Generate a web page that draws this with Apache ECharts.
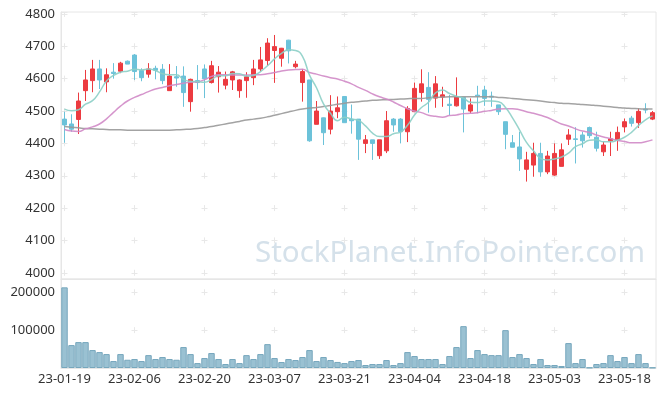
<!DOCTYPE html>
<html><head><meta charset="utf-8">
<script src="https://cdn.jsdelivr.net/npm/echarts@6/dist/echarts.min.js"></script>
<style>html,body{margin:0;padding:0;background:#fff}#c{width:665px;height:397px}</style>
</head><body><div id="c"></div>
<script>
var dates = ["23-01-19","23-01-20","23-01-25","23-01-26","23-01-27","23-01-30","23-01-31","23-02-01","23-02-02","23-02-03","23-02-06","23-02-07","23-02-08","23-02-09","23-02-10","23-02-13","23-02-14","23-02-15","23-02-16","23-02-17","23-02-20","23-02-21","23-02-22","23-02-23","23-02-24","23-02-27","23-02-28","23-03-02","23-03-03","23-03-06","23-03-07","23-03-08","23-03-09","23-03-10","23-03-13","23-03-14","23-03-15","23-03-16","23-03-17","23-03-20","23-03-21","23-03-22","23-03-23","23-03-24","23-03-27","23-03-28","23-03-29","23-03-30","23-03-31","23-04-03","23-04-04","23-04-05","23-04-06","23-04-07","23-04-10","23-04-11","23-04-12","23-04-13","23-04-14","23-04-17","23-04-18","23-04-19","23-04-20","23-04-21","23-04-24","23-04-25","23-04-26","23-04-27","23-04-28","23-05-02","23-05-03","23-05-04","23-05-08","23-05-09","23-05-10","23-05-11","23-05-12","23-05-15","23-05-16","23-05-17","23-05-18","23-05-19","23-05-22","23-05-23","23-05-24"];
var opens  = [4475,4460,4474,4563,4594,4630,4590,4620,4623,4654,4673,4625,4614,4632,4629,4563,4606,4608,4529,4594,4630,4588,4606,4580,4596,4563,4594,4603,4630,4656,4687,4663,4719,4637,4588,4596,4459,4479,4444,4498,4545,4475,4475,4400,4411,4362,4377,4475,4475,4436,4498,4557,4573,4540,4543,4521,4516,4542,4500,4549,4565,4546,4519,4467,4402,4389,4320,4333,4369,4312,4302,4329,4413,4414,4426,4449,4419,4374,4408,4410,4451,4478,4464,4506,4475];
var closes = [4457,4444,4531,4596,4630,4596,4612,4616,4648,4645,4622,4603,4630,4626,4594,4608,4602,4557,4598,4588,4600,4640,4620,4598,4621,4596,4606,4630,4658,4710,4699,4694,4686,4645,4622,4408,4500,4433,4500,4510,4464,4470,4413,4411,4400,4411,4470,4457,4436,4508,4570,4584,4536,4584,4550,4517,4544,4506,4519,4546,4539,4543,4498,4428,4388,4352,4349,4369,4312,4361,4369,4380,4426,4412,4408,4424,4385,4395,4414,4434,4467,4462,4499,4503,4495];
var lows   = [4402,4436,4429,4531,4558,4568,4558,4600,4617,4645,4596,4592,4603,4598,4583,4563,4575,4513,4498,4567,4540,4585,4557,4567,4565,4541,4541,4580,4623,4640,4587,4637,4647,4632,4529,4405,4459,4395,4428,4478,4464,4430,4349,4370,4349,4352,4370,4436,4400,4404,4498,4529,4495,4510,4513,4487,4514,4434,4493,4493,4516,4513,4488,4382,4388,4315,4282,4297,4297,4305,4300,4329,4395,4338,4387,4416,4375,4361,4361,4377,4434,4452,4448,4493,4472];
var highs  = [4498,4490,4557,4627,4658,4658,4632,4648,4652,4656,4676,4632,4648,4640,4645,4645,4639,4638,4600,4642,4644,4655,4639,4622,4624,4598,4620,4658,4698,4725,4735,4695,4720,4655,4630,4596,4531,4480,4549,4545,4545,4520,4475,4426,4411,4411,4500,4478,4478,4515,4588,4629,4620,4608,4575,4550,4604,4542,4539,4578,4578,4560,4519,4467,4426,4436,4374,4402,4402,4377,4400,4400,4444,4450,4436,4452,4436,4405,4436,4452,4477,4485,4509,4524,4500];
var volumes = [213000,60500,68400,68400,47400,42000,36800,18400,36800,21800,23700,18400,34000,23700,29000,23700,21800,55300,36800,13000,26300,39500,23700,10500,23700,13000,34000,23700,36800,63000,26300,15800,23700,21000,29000,47400,18400,29000,21000,16000,13000,18400,21000,7900,10500,10500,21000,7900,13000,42000,31600,23700,23700,23700,10500,31600,55300,110500,26300,47400,36800,34000,34000,100000,29000,36800,26300,10500,23700,7900,7900,5300,65800,13000,23700,1000,10500,13000,34000,18400,29000,13000,36800,13000,1000];
var ma5  = [4506,4501,4504,4521,4532,4559,4593,4610,4620,4623,4629,4627,4630,4625,4615,4612,4612,4597,4592,4591,4589,4597,4609,4609,4616,4615,4608,4610,4622,4640,4661,4678,4689,4687,4669,4611,4572,4522,4493,4470,4481,4475,4471,4454,4432,4421,4421,4430,4435,4456,4488,4511,4527,4556,4565,4554,4546,4540,4527,4526,4531,4531,4529,4511,4479,4442,4403,4377,4354,4349,4352,4358,4370,4390,4399,4410,4411,4405,4405,4410,4419,4434,4455,4473,4485];
var ma20 = [4443,4438,4437,4445,4451,4460,4476,4496,4515,4531,4542,4551,4560,4568,4573,4578,4582,4586,4589,4590,4597,4607,4612,4612,4611,4611,4611,4612,4612,4615,4619,4624,4627,4628,4629,4619,4614,4608,4603,4599,4592,4584,4573,4564,4553,4544,4537,4528,4517,4507,4500,4495,4487,4484,4481,4486,4488,4492,4493,4495,4499,4502,4506,4507,4507,4504,4498,4493,4487,4480,4470,4460,4454,4445,4438,4434,4426,4420,4415,4409,4406,4402,4402,4405,4411];
var ma60 = [4452,4450,4448,4446,4445,4444,4443,4442,4442,4441,4441,4441,4441,4441,4441,4441,4442,4443,4444,4446,4449,4452,4456,4460,4464,4468,4472,4475,4478,4482,4487,4492,4497,4502,4506,4509,4511,4514,4517,4521,4524,4527,4529,4531,4533,4534,4535,4536,4537,4538,4539,4539,4541,4542,4543,4544,4544,4544,4544,4544,4544,4544,4542,4541,4539,4537,4535,4533,4531,4528,4526,4524,4523,4522,4520,4519,4517,4515,4513,4511,4509,4508,4507,4506,4506];
var watermark = "StockPlanet.InfoPointer.com";

var candleData = opens.map(function (o, i) { return [o, closes[i], lows[i], highs[i]]; });
function plain(v) { return String(v); }

var gridLine = '#e6e6e6';
var crossColor = '#e8e8e8';
var chart = echarts.init(document.getElementById('c'), null, {renderer: 'canvas'});
chart.setOption({
  animation: false,
  backgroundColor: '#fff',
  textStyle: {fontFamily: '"Noto Sans", sans-serif'},
  grid: [
    {left: 61, right: 9, top: 12, height: 267, show: true, borderColor: gridLine, borderWidth: 1},
    {left: 61, right: 9, top: 279, height: 89, show: true, borderColor: gridLine, borderWidth: 1}
  ],
  graphic: [{
    type: 'text', right: 20, top: 239, z: 0, silent: true,
    style: {text: watermark, font: '29.5px "Noto Sans"', fill: '#d5e1ea'}
  }],
  xAxis: [
    {type: 'category', gridIndex: 0, data: dates, boundaryGap: true,
     axisLine: {lineStyle: {color: gridLine}}, axisTick: {show: false}, axisLabel: {show: false},
     splitLine: {show: true, interval: 9, alignWithLabel: true,
       lineStyle: {color: crossColor, width: 1, type: [6, 26.36], dashOffset: 1.1}}},
    {type: 'category', gridIndex: 1, data: dates, boundaryGap: true,
     axisLine: {lineStyle: {color: gridLine}}, axisTick: {show: false},
     axisLabel: {interval: 9, color: '#333', fontSize: 13, margin: 5},
     splitLine: {show: true, interval: 9, alignWithLabel: true,
       lineStyle: {color: crossColor, width: 1, type: [6, 31.87], dashOffset: -10.26}}}
  ],
  yAxis: [
    {type: 'value', gridIndex: 0, min: 3981, max: 4806, splitNumber: 8, scale: true,
     axisLine: {show: true, lineStyle: {color: gridLine}}, axisTick: {show: false},
     axisLabel: {color: '#333', fontSize: 13, margin: 6, showMinLabel: false, showMaxLabel: false, formatter: plain},
     splitLine: {show: true, lineStyle: {color: crossColor, width: 1, type: [6, 64], dashOffset: -0.5}}},
    {type: 'value', gridIndex: 1, min: 0, max: 235000, interval: 100000,
     axisLine: {show: true, lineStyle: {color: gridLine}}, axisTick: {show: false},
     axisLabel: {color: '#333', fontSize: 13, margin: 6, showMinLabel: false, showMaxLabel: false, formatter: plain},
     splitLine: {show: true, lineStyle: {color: crossColor, width: 1, type: [6, 64], dashOffset: -0.5}}}
  ],
  series: [
    {type: 'candlestick', xAxisIndex: 0, yAxisIndex: 0, data: candleData, barWidth: 5,
     itemStyle: {color: '#ec3b40', color0: '#6cc2d9', borderColor: '#ec3b40', borderColor0: '#6cc2d9', borderWidth: 1}},
    {type: 'line', xAxisIndex: 0, yAxisIndex: 0, data: ma60, smooth: true, showSymbol: false,
     lineStyle: {color: '#999999', width: 1.5, opacity: 0.9}},
    {type: 'line', xAxisIndex: 0, yAxisIndex: 0, data: ma20, smooth: true, showSymbol: false,
     lineStyle: {color: '#d08ac6', width: 1.5, opacity: 0.9}},
    {type: 'line', xAxisIndex: 0, yAxisIndex: 0, data: ma5, smooth: true, showSymbol: false,
     lineStyle: {color: '#8ccfc6', width: 1.5, opacity: 0.9}},
    {type: 'bar', xAxisIndex: 1, yAxisIndex: 1, data: volumes, barCategoryGap: '8%',
     itemStyle: {color: '#9ac1d2', borderColor: '#76a7bd', borderWidth: 1}}
  ]
});
</script></body></html>
